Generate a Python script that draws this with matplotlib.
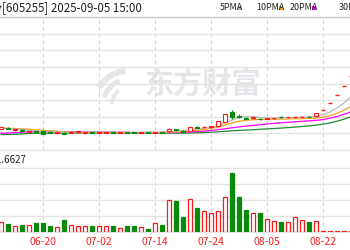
import numpy as np
import matplotlib.pyplot as plt
from matplotlib.patches import Rectangle, Polygon
import matplotlib.transforms as mtransforms

plt.rcParams['font.family'] = ['Noto Sans CJK SC', 'DejaVu Sans']

# chart texts
title = '天普股份[605255] 2025-09-05 15:00'
vol_title = 'VOL:1.6627'
ma_names = ['5PMA', '10PMA', '20PMA', '30PMA']
ma_colors = ['#b8b8b8', '#f7a21b', '#ff00ff', '#1f8a3a']
date_labels = ['06-10', '06-20', '07-02', '07-14', '07-24', '08-05', '08-22']
label_pos = [-2, 6, 14, 22, 30, 38, 46]

# daily candles (price)
opens = [30.75, 31.25, 30.0, 30.25, 29.0, 29.5, 29.5, 29.25, 28.5, 28.75,
         28.75, 29.0, 28.5, 29.0, 28.75, 28.75, 29.0, 28.75, 29.0, 28.9,
         28.6, 28.9, 28.5, 29.0, 29.5, 30.5, 29.75, 29.75, 31.75, 31.5,
         31.5, 32.0, 34.25, 39.25, 37.25, 36.25, 36.2, 35.75, 35.75, 35.9,
         36.75, 36.4, 36.4, 36.5, 36.75, 37.0, 40.0, 43.5, 47.5, 52.0, 57.0]
closes = [31.5, 30.75, 30.5, 29.75, 29.5, 29.0, 28.0, 28.75, 29.0, 28.25,
          29.25, 29.5, 29.0, 28.75, 29.0, 29.0, 28.75, 28.9, 28.75, 28.6,
          28.9, 28.75, 29.0, 28.75, 30.75, 30.0, 29.25, 31.5, 31.25, 31.75,
          32.0, 34.5, 38.0, 36.75, 36.75, 35.75, 36.4, 35.5, 36.0, 36.1,
          36.5, 36.6, 36.6, 36.75, 36.6, 38.5, 40.0, 43.5, 47.5, 52.0, 57.0]
highs = [31.75, 31.5, 30.75, 30.5, 29.75, 29.75, 29.75, 29.5, 29.25, 29.0,
         29.5, 29.75, 29.25, 29.25, 29.25, 29.25, 29.25, 29.0, 29.25, 29.0,
         29.0, 29.0, 29.25, 29.25, 31.25, 30.75, 30.25, 31.75, 32.0, 32.25,
         32.25, 34.75, 38.25, 40.0, 38.0, 36.5, 36.6, 36.0, 36.25, 36.25,
         37.25, 36.75, 36.75, 37.0, 37.0, 38.75, 40.0, 43.5, 47.5, 52.0, 57.0]
lows = [30.5, 30.5, 29.75, 29.5, 28.75, 28.75, 28.0, 28.5, 28.25, 28.0,
        28.5, 28.75, 28.25, 28.5, 28.5, 28.5, 28.5, 28.6, 28.5, 28.5,
        28.5, 28.6, 28.4, 28.5, 29.25, 29.75, 29.0, 29.5, 31.0, 31.25,
        31.25, 31.75, 34.0, 35.5, 36.0, 35.5, 36.0, 35.25, 35.5, 35.75,
        36.0, 36.25, 36.25, 36.4, 36.5, 36.75, 40.0, 43.5, 47.5, 52.0, 57.0]

# volume (万手)
volumes = [0.93, 0.77, 0.60, 0.67, 0.67, 0.83, 0.83, 0.53, 0.43, 1.20,
           0.67, 0.53, 0.53, 0.53, 0.60, 0.53, 0.53, 0.33, 0.60, 0.53,
           0.47, 0.27, 0.87, 0.67, 3.17, 3.10, 1.43, 3.27, 2.37, 2.10,
           1.83, 2.10, 3.50, 5.83, 3.50, 2.20, 1.83, 1.83, 1.27, 1.10,
           0.93, 0.93, 1.43, 1.20, 1.00, 1.10, 0.04, 0.04, 0.04, 0.04, 0.04]

# moving averages
ma5 = [30.75, 30.75, 30.5, 30.25, 29.75, 29.5, 29.25, 29.0, 29.0, 28.85,
       28.85, 29.0, 29.0, 29.0, 29.0, 29.0, 28.9, 28.85, 28.85, 28.75,
       28.75, 28.85, 28.85, 28.9, 29.25, 29.5, 29.75, 30.0, 30.5, 30.85,
       31.25, 32.0, 33.5, 35.0, 36.25, 36.75, 36.75, 36.35, 36.0, 36.0,
       36.1, 36.2, 36.3, 36.4, 36.5, 36.85, 37.75, 39.0, 41.0, 43.5, 46.75]
ma10 = [31.0, 30.9, 30.75, 30.6, 30.35, 30.1, 29.85, 29.6, 29.35, 29.15,
        29.0, 28.85, 28.75, 28.75, 28.75, 28.75, 28.75, 28.75, 28.75, 28.75,
        28.75, 28.8, 28.8, 28.85, 28.9, 29.0, 29.25, 29.5, 29.85, 30.25,
        30.75, 31.5, 32.5, 33.5, 34.35, 34.85, 35.15, 35.3, 35.35, 35.4,
        35.45, 35.5, 35.6, 35.7, 35.8, 35.95, 36.4, 37.2, 38.4, 39.9, 41.75]
ma20 = [28.35, 28.5, 28.7, 28.9, 29.1, 29.25, 29.3, 29.3, 29.25, 29.2,
        29.15, 29.1, 29.05, 29.0, 29.0, 28.95, 28.9, 28.85, 28.8, 28.75,
        28.75, 28.75, 28.7, 28.7, 28.7, 28.75, 28.9, 29.05, 29.25, 29.45,
        29.75, 30.15, 30.6, 31.1, 31.55, 31.95, 32.3, 32.65, 33.0, 33.3,
        33.6, 33.85, 34.1, 34.35, 34.55, 34.8, 35.2, 35.9, 36.75, 37.85, 39.15]
ma30 = [27.75, 27.75, 27.85, 28.1, 28.25, 28.35, 28.4, 28.45, 28.5, 28.5,
        28.5, 28.5, 28.5, 28.5, 28.5, 28.5, 28.5, 28.5, 28.5, 28.5,
        28.5, 28.5, 28.5, 28.5, 28.45, 28.4, 28.45, 28.5, 28.6, 28.75,
        28.9, 29.1, 29.35, 29.6, 29.8, 29.95, 30.15, 30.35, 30.55, 30.75,
        30.95, 31.2, 31.45, 31.75, 32.05, 32.4, 32.9, 33.55, 34.4, 35.4, 36.65]

RED = '#ff1a1a'
GREEN = '#0a8a0a'
GRID = '#e4e4e4'
W, H = 350, 250

fig = plt.figure(figsize=(3.5, 2.5), dpi=100)


def fx(px):
    return px / W


def fy(py):
    return 1 - py / H


ax = fig.add_axes([0, fy(150), 1, (150 - 17) / H])
axv = fig.add_axes([0, fy(231.5), 1, (231.5 - 168) / H])

x = np.arange(len(closes))
xlim = (-1 / 7, 349 / 7)

for a in (ax, axv):
    a.set_xlim(*xlim)
    a.axis('off')
    for p in label_pos:
        a.axvline(p, color='#d2d2d2', lw=0.8, ls=(0, (3, 3)), zorder=1)

ax.set_ylim(20, 86.5)
for k, yv in enumerate(np.linspace(20, 86.5, 9)):
    ax.axhline(yv, color='#c4c4c4' if k == 8 else GRID, lw=1, zorder=1, clip_on=False)

axv.set_ylim(0, 6.35)
for yv in np.linspace(0, 6.35, 5):
    axv.axhline(yv, color=GRID, lw=1, zorder=1, clip_on=False)

# watermark
ax.text(fx(203), fy(84), '东方财富', transform=fig.transFigure, ha='center', va='center',
        fontsize=21, fontweight='bold', color='#e6e6ea', zorder=0.5)
t = np.linspace(0, 1, 20)
for r0, r1, a0, a1 in [(30, 36, 95, 150), (22, 27, 110, 165), (14, 18, 125, 180)]:
    ang_out = np.radians(a0 + (a1 - a0) * t)
    pts = [(fx(128 + r1 * np.cos(v)), fy(104 - r1 * np.sin(v))) for v in ang_out]
    pts += [(fx(128 + r0 * np.cos(v)), fy(104 - r0 * np.sin(v))) for v in ang_out[::-1]]
    ax.add_patch(Polygon(pts, closed=True, transform=fig.transFigure,
                         facecolor='#e6e6ea', edgecolor='none', zorder=0.5))

# moving averages
for vals, col in zip([ma30, ma20, ma10, ma5], ma_colors[::-1]):
    ax.plot(x, vals, color=col, lw=0.9, zorder=2)

# candles
bw = 0.64
for i in range(len(closes)):
    o, c, h, l = opens[i], closes[i], highs[i], lows[i]
    up = c >= o
    col = RED if up else GREEN
    if h > l:
        ax.vlines(i, l, h, color=col, lw=0.8, zorder=3)
    if abs(c - o) < 0.05:
        ax.hlines(c, i - bw / 2, i + bw / 2, color=col, lw=1.0, zorder=4)
    else:
        ax.bar(i, abs(c - o), bottom=min(o, c), width=bw,
               facecolor='white' if up else GREEN, edgecolor=col, lw=0.8, zorder=4)

# volume bars
for i in range(len(volumes)):
    up = closes[i] >= opens[i]
    axv.bar(i, volumes[i], width=bw, facecolor='white' if up else GREEN,
            edgecolor=RED if up else GREEN, lw=0.9, zorder=3)

# texts
fig.text(fx(142), fy(8), title, ha='right', va='center', fontsize=8.3, color='#222222')
fig.text(fx(27), fy(160), vol_title, ha='right', va='center', fontsize=7, color='#222222')

leg_x = [220, 256.5, 290, 339]
for name, col, lx in zip(ma_names, ma_colors, leg_x):
    tx = fig.text(fx(lx), fy(8), name, ha='left', va='center', fontsize=6.4, color='#222222')
    tw = 17 if name == '5PMA' else 21
    fig.patches.append(Rectangle((fx(lx + tw + 1), fy(9.5)), fx(4), 3 / H,
                                 transform=fig.transFigure, facecolor=col,
                                 edgecolor='none', figure=fig))

blend = mtransforms.blended_transform_factory(axv.transData, fig.transFigure)
for lab, p in zip(date_labels, label_pos):
    fig.text(p, fy(242), lab, transform=blend, ha='center', va='center',
             fontsize=7.5, color='#ff2020')

fig.savefig('out.png', dpi=100)
